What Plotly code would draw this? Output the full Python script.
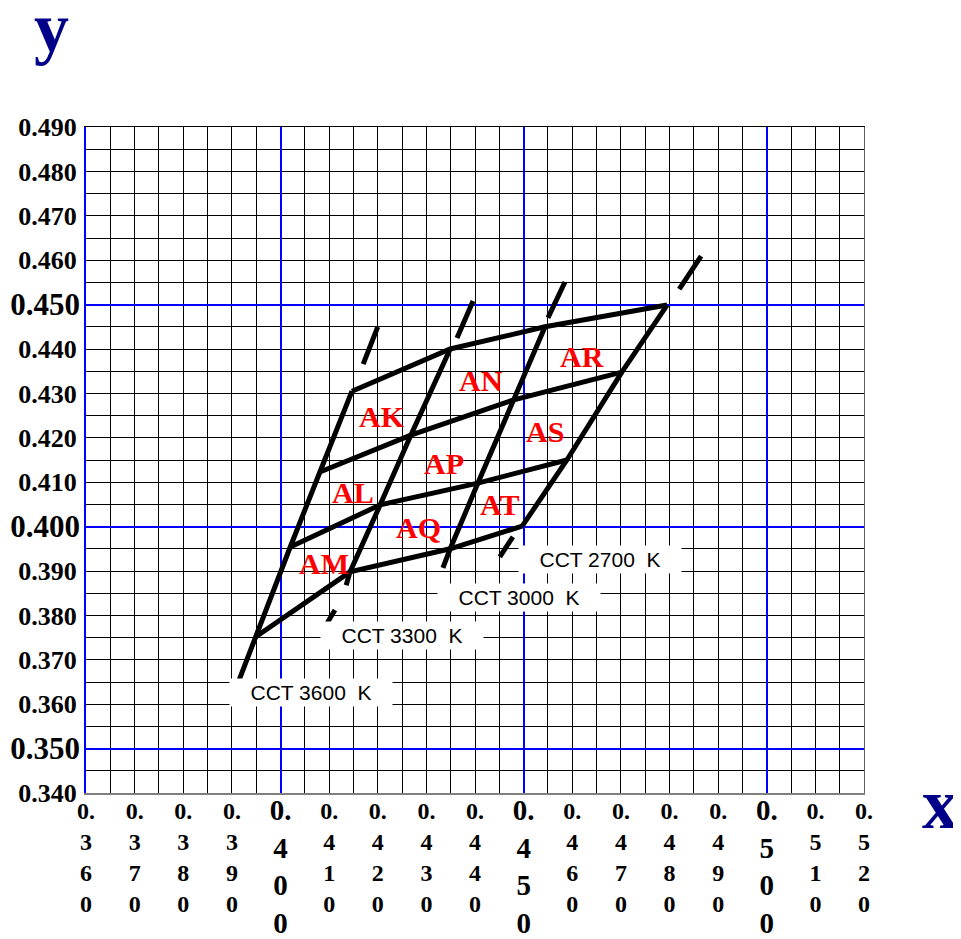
import plotly.graph_objects as go

# Corner points of the bin grid along each CCT line, bottom row to top row
x_3600 = [0.3948, 0.4020, 0.4081, 0.4147]
y_3600 = [0.3751, 0.3954, 0.4123, 0.4305]
x_3300 = [0.4143, 0.4205, 0.4268, 0.4349]
y_3300 = [0.3898, 0.4049, 0.4206, 0.4400]
x_3000 = [0.4349, 0.4406, 0.4478, 0.4544]
y_3000 = [0.3950, 0.4098, 0.4285, 0.4450]
x_2700 = [0.4497, 0.4589, 0.4702, 0.4795]
y_2700 = [0.4001, 0.4150, 0.4348, 0.4499]

# Solid tail below the bottom corner (None = no tail)
tail_x = [0.3915, 0.4135, 0.4334, None]
tail_y = [0.3655, 0.3868, 0.3907, None]

# Dash pieces beyond the ends of each CCT line
dash_top_x = [[0.4170, 0.4200], [0.4363, 0.4396], [0.4550, 0.4585], [0.4820, 0.4865]]
dash_top_y = [[0.4366, 0.4450], [0.4425, 0.4508], [0.4470, 0.4551], [0.4535, 0.4609]]
dash_bot_x = [None, [0.4112, 0.4096], None, [0.4478, 0.4451]]
dash_bot_y = [None, [0.3812, 0.3783], None, [0.3977, 0.3932]]

cct_names = ["CCT 3600  K", "CCT 3300  K", "CCT 3000  K", "CCT 2700  K"]
cct_label_x = [0.4063, 0.4250, 0.4490, 0.4657]
cct_label_y = [0.3627, 0.3754, 0.3841, 0.3925]

bin_names = ["AK", "AN", "AR", "AL", "AP", "AS", "AM", "AQ", "AT"]
bin_x = [0.4209, 0.4412, 0.4620, 0.4149, 0.4336, 0.4544, 0.4089, 0.4283, 0.4451]
bin_y = [0.4249, 0.4330, 0.4384, 0.4076, 0.4143, 0.4215, 0.3918, 0.3997, 0.4049]

x_minor_ticks = [0.36, 0.37, 0.38, 0.39, 0.41, 0.42, 0.43, 0.44, 0.46, 0.47,
                 0.48, 0.49, 0.51, 0.52]
x_major_ticks = [0.40, 0.45, 0.50]
y_minor_ticks = [0.34, 0.36, 0.37, 0.38, 0.39, 0.41, 0.42, 0.43, 0.44, 0.46,
                 0.47, 0.48, 0.49]
y_major_ticks = [0.35, 0.40, 0.45]

SERIF = "Times New Roman, Liberation Serif, serif"
SANS = "Arial, Liberation Sans, sans-serif"
NAVY = "#000088"


def stacked(v):
    # "0.360" -> one character per line
    s = f"{v:.3f}"
    return "<br>".join([s[:2]] + list(s[2:]))


xs = [x_3600, x_3300, x_3000, x_2700]
ys = [y_3600, y_3300, y_3000, y_2700]
line = dict(color="black", width=5)

fig = go.Figure()

# empty traces so the overlaid axes (big labels, blue grid, frame) get drawn
for xa, ya in [("x2", "y"), ("x", "y2"), ("x3", "y"), ("x", "y3")]:
    fig.add_trace(go.Scatter(x=[None], y=[None], xaxis=xa, yaxis=ya,
                             mode="lines", hoverinfo="skip"))

for i in range(4):
    lx = ([tail_x[i]] if tail_x[i] is not None else []) + xs[i]
    ly = ([tail_y[i]] if tail_y[i] is not None else []) + ys[i]
    fig.add_trace(go.Scatter(x=lx, y=ly, mode="lines", line=line))
    fig.add_trace(go.Scatter(x=dash_top_x[i], y=dash_top_y[i], mode="lines", line=line))
    if dash_bot_x[i] is not None:
        fig.add_trace(go.Scatter(x=dash_bot_x[i], y=dash_bot_y[i], mode="lines", line=line))

for r in range(4):
    fig.add_trace(go.Scatter(x=[x[r] for x in xs], y=[y[r] for y in ys],
                             mode="lines", line=line))

for name, bx, by in zip(bin_names, bin_x, bin_y):
    fig.add_annotation(x=bx, y=by, text=name, showarrow=False,
                       font=dict(family=SERIF, size=30, color="red", weight="bold"))

for name, cx, cy in zip(cct_names, cct_label_x, cct_label_y):
    fig.add_annotation(x=cx, y=cy, text=name.replace("  ", "\u00a0 "), showarrow=False,
                       width=160, height=25, bgcolor="white",
                       font=dict(family=SANS, size=21, color="black"))

fig.add_annotation(xref="paper", yref="paper", x=-0.044, y=1.149, text="y",
                   xanchor="center", yanchor="middle", showarrow=False,
                   font=dict(family=SERIF, size=70, color=NAVY, weight="bold"))
fig.add_annotation(xref="paper", yref="paper", x=1.098, y=-0.017, text="x",
                   xanchor="center", yanchor="middle", showarrow=False,
                   font=dict(family=SERIF, size=72, color=NAVY, weight="bold"))

common = dict(zeroline=False, automargin=False, ticks="")
x_range = [0.36, 0.52]
y_range = [0.34, 0.49]

# the page body adds 8px, so the figure is 8px smaller than the window
fig.update_layout(
    width=953, height=931,
    margin=dict(l=78, r=97, t=119, b=146),
    paper_bgcolor="white", plot_bgcolor="white",
    showlegend=False,
    xaxis=dict(
        range=x_range, tickvals=x_minor_ticks,
        ticktext=[stacked(v) for v in x_minor_ticks],
        tickfont=dict(family=SERIF, size=24, color="black", weight="bold"),
        ticklabelstandoff=-5,
        showgrid=True, gridcolor="black", gridwidth=1,
        minor=dict(tick0=0.36, dtick=0.005, showgrid=True, gridcolor="black", gridwidth=1),
        showline=True, linecolor="#808080", linewidth=2, **common,
    ),
    xaxis2=dict(
        range=x_range, overlaying="x", anchor="y", side="bottom",
        tickvals=x_major_ticks, ticktext=[stacked(v) for v in x_major_ticks],
        tickfont=dict(family=SERIF, size=29, color="black", weight="bold"),
        ticklabelstandoff=-3,
        showgrid=True, gridcolor="blue", gridwidth=2, **common,
    ),
    xaxis3=dict(
        range=x_range, overlaying="x", anchor="y", side="top",
        showticklabels=False, showgrid=False,
        showline=True, linecolor="black", linewidth=1, **common,
    ),
    yaxis=dict(
        range=y_range, tickvals=y_minor_ticks,
        ticktext=[f"{v:.3f}" for v in y_minor_ticks],
        tickfont=dict(family=SERIF, size=26, color="black", weight="bold"),
        ticklabelstandoff=2,
        showgrid=True, gridcolor="black", gridwidth=1,
        minor=dict(tick0=0.34, dtick=0.005, showgrid=True, gridcolor="black", gridwidth=1),
        showline=True, linecolor="blue", linewidth=2, **common,
    ),
    yaxis2=dict(
        range=y_range, overlaying="y", anchor="x", side="left",
        tickvals=y_major_ticks, ticktext=[f"{v:.3f}" for v in y_major_ticks],
        tickfont=dict(family=SERIF, size=31, color="black", weight="bold"),
        ticklabelstandoff=5,
        showgrid=True, gridcolor="blue", gridwidth=2, **common,
    ),
    yaxis3=dict(
        range=y_range, overlaying="y", anchor="x", side="right",
        showticklabels=False, showgrid=False,
        showline=True, linecolor="#606060", linewidth=1, **common,
    ),
)

fig.write_html("out.html")
